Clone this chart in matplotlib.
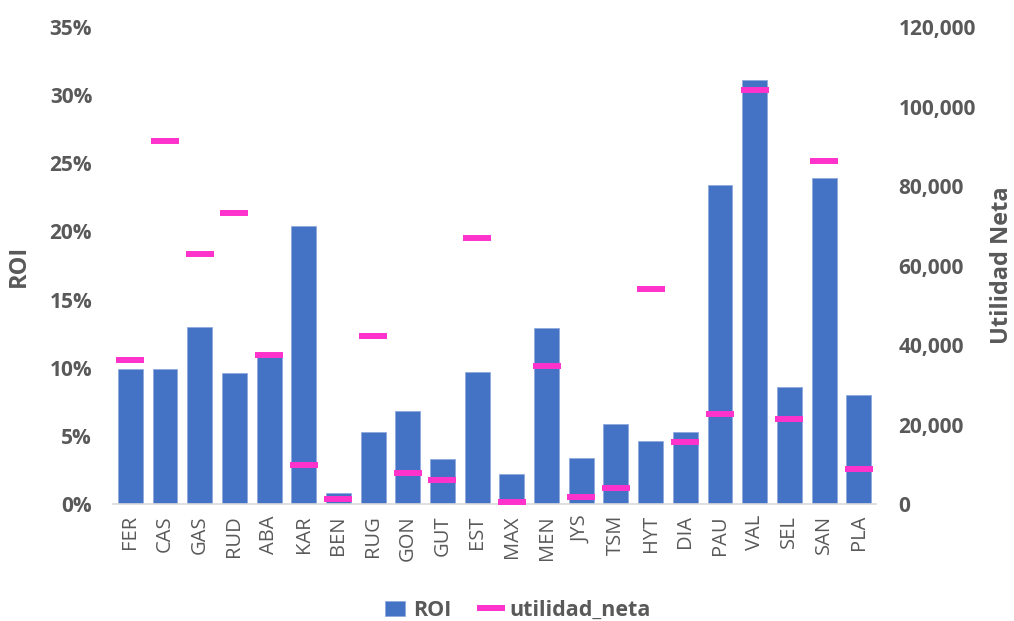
import matplotlib.pyplot as plt
import numpy as np
from matplotlib.ticker import FuncFormatter

# ROI (%) and net profit per client code
codigos = ['FER', 'CAS', 'GAS', 'RUD', 'ABA', 'KAR', 'BEN', 'RUG', 'GON', 'GUT', 'EST',
           'MAX', 'MEN', 'JYS', 'TSM', 'HYT', 'DIA', 'PAU', 'VAL', 'SEL', 'SAN', 'PLA']
roi = [9.9, 9.9, 13.0, 9.6, 10.8, 20.4, 0.8, 5.3, 6.8, 3.3, 9.7,
       2.2, 12.9, 3.4, 5.9, 4.6, 5.3, 23.4, 31.1, 8.6, 23.9, 8.0]
utilidad_neta = [36200, 91200, 62900, 73300, 37600, 9900, 1300, 42300, 7900, 6000, 67000,
                 500, 34800, 1800, 4100, 54200, 15700, 22600, 104200, 21500, 86300, 8900]

azul = '#4472C4'
rosa = '#FF33CC'
gris = '#595959'

plt.rcParams['font.family'] = ['Open Sans', 'DejaVu Sans']

fig = plt.figure(figsize=(10.14, 6.21), dpi=100)
ax1 = fig.add_axes([0.1114, 0.1884, 0.7526, 0.7681])
ax2 = ax1.twinx()

x = np.arange(len(codigos))
ax1.bar(x, np.array(roi) / 100, width=0.72, color=azul, edgecolor='#8FAADC',
        linewidth=0.6, label='ROI', zorder=2)
ax2.plot(x, utilidad_neta, linestyle='none', marker='_', markersize=19.5,
         markeredgewidth=4.3, color=rosa, label='utilidad_neta', zorder=3)

ax1.set_xlim(-0.5, len(codigos) - 0.5)
ax1.set_ylim(0, 0.35)
ax2.set_ylim(0, 120000)
ax1.set_yticks(np.arange(0, 0.36, 0.05))
ax2.set_yticks(np.arange(0, 120001, 20000))
ax1.yaxis.set_major_formatter(FuncFormatter(lambda v, p: f'{v * 100:.0f}%'))
ax2.yaxis.set_major_formatter(FuncFormatter(lambda v, p: f'{v:,.0f}'))

ax1.set_xticks(x)
ax1.set_xticklabels(codigos, rotation=90, fontsize=14.5, color=gris)
for lbl in ax1.get_yticklabels():
    lbl.set_fontweight('bold')
for lbl in ax2.get_yticklabels():
    lbl.set_fontweight('bold')
ax1.tick_params(axis='y', length=0, labelsize=15, labelcolor=gris, pad=15)
ax2.tick_params(axis='y', length=0, labelsize=15, labelcolor=gris, pad=16)
ax1.tick_params(axis='x', length=0, pad=8)

for ax in (ax1, ax2):
    for side in ('top', 'left', 'right'):
        ax.spines[side].set_visible(False)
ax2.spines['bottom'].set_visible(False)
ax1.spines['bottom'].set_color('#D9D9D9')
ax1.spines['bottom'].set_linewidth(1.2)

ax1.set_ylabel('ROI', fontsize=17, fontweight='bold', color=gris, labelpad=13)
ax2.set_ylabel('Utilidad Neta', fontsize=17, fontweight='bold', color=gris,
               rotation=90, labelpad=10)

h1, l1 = ax1.get_legend_handles_labels()
h2, l2 = ax2.get_legend_handles_labels()
fig.legend(h1 + h2, l1 + l2, loc='center', bbox_to_anchor=(0.511, 0.017), ncol=2,
           frameon=False, handlelength=0.9, handletextpad=0.4, columnspacing=1.4,
           prop={'size': 15.5, 'weight': 'bold'}, labelcolor=gris)

fig.savefig('out.png', dpi=100)
